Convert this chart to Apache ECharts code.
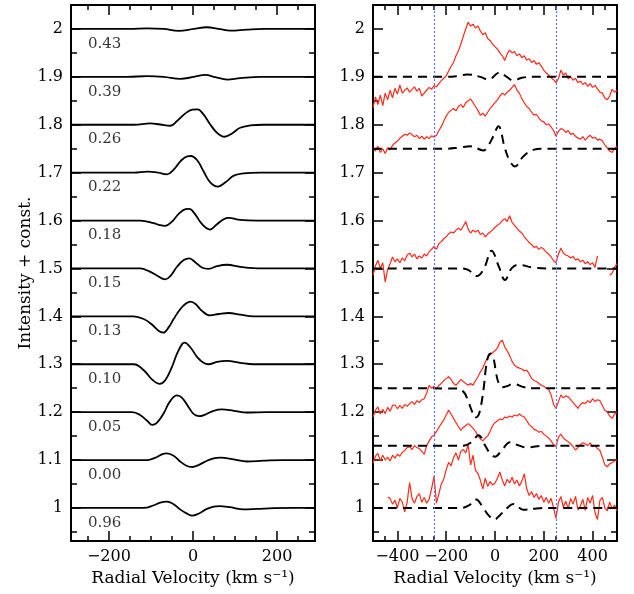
<!DOCTYPE html>
<html>
<head>
<meta charset="utf-8">
<script src="https://cdn.jsdelivr.net/npm/echarts@6/dist/echarts.min.js"></script>
<style>
  html, body { margin: 0; background: #fff; }
  #chart { width: 634px; height: 594px; }
</style>
</head>
<body>
<div id="chart"></div>
<script>
// ---- left panel: computed profiles, [velocity, intensity + const] ----
const phaseLabels = ["0.96", "0.00", "0.05", "0.10", "0.13", "0.15", "0.18", "0.22", "0.26", "0.39", "0.43"];
const phaseBaselines = [1.0, 1.1, 1.2, 1.3, 1.4, 1.5, 1.6, 1.7, 1.8, 1.9, 2.0];

const prof096 = [[-290,1],[-117,1],[-93,1.0056],[-78,1.011],[-62,1.013],[-46,1.0077],[-30,0.9965],[-12,0.987],[-2,0.984],[13,0.988],[33,0.998],[49,1.003],[63,1.004],[89,1.0015],[120,0.997],[152,0.998],[192,0.9995],[240,1],[290,1]];
const prof000 = [[-290,1.1],[-109,1.1],[-89,1.105],[-74,1.112],[-62,1.114],[-46,1.109],[-30,1.0965],[-14,1.0875],[-2,1.0855],[13,1.0895],[33,1.0986],[49,1.1035],[65,1.105],[97,1.1014],[128,1.097],[168,1.0986],[215,1.1],[290,1.1]];
const prof005 = [[-290,1.2],[-145,1.2],[-125,1.1937],[-109,1.182],[-97,1.1735],[-86,1.1777],[-70,1.197],[-58,1.218],[-46,1.232],[-38,1.235],[-26,1.23],[-10,1.2098],[2,1.1958],[15,1.1916],[29,1.195],[49,1.2028],[69,1.2056],[97,1.2028],[128,1.1993],[176,1.2],[290,1.2]];
const prof010 = [[-290,1.3],[-141,1.3],[-117,1.2875],[-97,1.268],[-79,1.259],[-66,1.2665],[-50,1.2945],[-38,1.322],[-26,1.342],[-20,1.345],[-6,1.335],[10,1.315],[25,1.303],[37,1.3],[57,1.305],[81,1.307],[112,1.303],[144,1.3],[290,1.3]];
const prof013 = [[-290,1.4],[-141,1.4],[-117,1.3944],[-97,1.3826],[-82,1.37],[-71,1.3659],[-58,1.377],[-46,1.3944],[-30,1.4153],[-16,1.4272],[-6,1.4307],[6,1.4258],[21,1.4118],[40,1.4021],[61,1.4049],[85,1.407],[112,1.4035],[144,1.4],[290,1.4]];
const prof015 = [[-290,1.5],[-125,1.5],[-105,1.4944],[-86,1.4854],[-66,1.477],[-54,1.484],[-38,1.5035],[-22,1.5174],[-9,1.5209],[6,1.5125],[21,1.502],[37,1.4993],[57,1.5049],[81,1.5077],[112,1.5035],[144,1.5007],[190,1.5],[290,1.5]];
const prof018 = [[-290,1.6],[-125,1.6],[-93,1.5944],[-78,1.5902],[-66,1.5889],[-50,1.5979],[-34,1.6139],[-18,1.6237],[-9,1.6244],[6,1.6118],[21,1.593],[40,1.5812],[57,1.5923],[73,1.6028],[85,1.6056],[112,1.6014],[152,1.6],[290,1.6]];
const prof022 = [[-290,1.7],[-140,1.7],[-109,1.7021],[-86,1.7007],[-62,1.6965],[-46,1.7063],[-30,1.7237],[-14,1.7341],[-5,1.7348],[10,1.7258],[25,1.7028],[41,1.6798],[59,1.6707],[77,1.6798],[97,1.6937],[120,1.6986],[160,1.7],[290,1.7]];
const prof026 = [[-290,1.8],[-140,1.8],[-101,1.8028],[-78,1.8005],[-54,1.7979],[-38,1.8077],[-18,1.8237],[-2,1.8314],[11,1.8321],[25,1.8216],[41,1.8007],[57,1.7833],[75,1.7749],[93,1.7819],[112,1.7937],[136,1.7986],[168,1.8],[290,1.8]];
const prof039 = [[-290,1.9],[-157,1.9],[-109,1.9014],[-70,1.9],[-30,1.8958],[2,1.9],[29,1.9042],[53,1.8995],[81,1.8944],[112,1.8972],[160,1.9],[290,1.9]];
const prof043 = [[-290,2],[-150,2],[-109,2.0014],[-70,2.0],[-34,1.9958],[2,2.0],[33,2.0035],[61,2.0],[89,1.9965],[128,1.9986],[168,2.0],[290,2]];
const leftProfiles = [prof096, prof000, prof005, prof010, prof013, prof015, prof018, prof022, prof026, prof039, prof043];

// ---- right panel: observed spectra on a 10 km/s grid ----
const obsVel = [-500,-490,-480,-470,-460,-450,-440,-430,-420,-410,-400,-390,-380,-370,-360,-350,-340,-330,-320,-310,
  -300,-290,-280,-270,-260,-250,-240,-230,-220,-210,-200,-190,-180,-170,-160,-150,-140,-130,-120,-110,
  -100,-90,-80,-70,-60,-50,-40,-30,-20,-10,0,10,20,30,40,50,60,70,80,90,
  100,110,120,130,140,150,160,170,180,190,200,210,220,230,240,250,260,270,280,290,
  300,310,320,330,340,350,360,370,380,390,400,410,420,430,440,450,460,470,480,490,500];

const obs190 = [1.835,1.858,1.842,1.862,1.840,1.866,1.852,1.872,1.856,1.876,1.864,1.883,1.866,1.872,1.877,1.868,1.874,1.879,1.870,1.876,
  1.860,1.866,1.872,1.878,1.874,1.882,1.879,1.886,1.892,1.897,1.902,1.912,1.922,1.930,1.944,1.954,1.968,1.985,2.000,2.014,
  2.006,2.010,2.002,2.006,1.996,1.988,1.992,1.980,1.976,1.968,1.963,1.958,1.950,1.944,1.934,1.948,1.956,1.950,1.953,1.944,
  1.948,1.940,1.944,1.935,1.938,1.930,1.934,1.926,1.930,1.922,1.914,1.908,1.904,1.898,1.894,1.888,1.896,1.914,1.904,1.908,
  1.896,1.900,1.893,1.897,1.888,1.891,1.884,1.888,1.880,1.886,1.878,1.882,1.875,1.868,1.866,1.856,1.852,1.860,1.874,1.868,1.872];
const obs175 = [1.752,1.745,1.755,1.742,1.750,1.740,1.752,1.748,1.757,1.762,1.766,1.772,1.776,1.780,1.778,1.783,1.779,1.775,1.778,1.771,
  1.776,1.770,1.775,1.771,1.777,1.774,1.778,1.788,1.796,1.808,1.818,1.826,1.830,1.834,1.829,1.838,1.842,1.836,1.846,1.850,
  1.854,1.846,1.838,1.830,1.820,1.824,1.818,1.826,1.834,1.840,1.846,1.852,1.860,1.866,1.862,1.868,1.872,1.878,1.884,1.872,
  1.866,1.854,1.846,1.838,1.834,1.826,1.820,1.822,1.814,1.808,1.806,1.800,1.802,1.795,1.788,1.776,1.786,1.792,1.790,1.784,
  1.788,1.780,1.782,1.776,1.772,1.770,1.775,1.768,1.774,1.778,1.772,1.774,1.768,1.770,1.766,1.758,1.752,1.745,1.742,1.750,1.755];
const obs150 = [1.486,1.505,1.517,1.500,1.512,1.472,1.498,1.510,1.524,1.514,1.520,1.512,1.522,1.516,1.528,1.532,1.524,1.530,1.520,1.526,
  1.522,1.530,1.526,1.535,1.540,1.546,1.540,1.552,1.556,1.562,1.566,1.572,1.576,1.574,1.580,1.584,1.580,1.588,1.598,1.582,
  1.574,1.580,1.576,1.580,1.571,1.574,1.566,1.572,1.576,1.580,1.586,1.590,1.594,1.600,1.604,1.598,1.610,1.596,1.590,1.584,
  1.578,1.574,1.566,1.560,1.554,1.550,1.544,1.546,1.540,1.544,1.540,1.534,1.530,1.524,1.516,1.512,1.530,1.542,1.532,1.528,
  1.526,1.522,1.525,1.518,1.520,1.514,1.517,1.510,1.514,1.508,1.512,1.502,1.526,null,null,null,null,1.486,1.490,1.502,1.510];
const obs125 = [1.190,1.204,1.211,1.196,1.206,1.197,1.210,1.202,1.214,1.215,1.207,1.214,1.208,1.216,1.212,1.218,1.222,1.216,1.224,1.220,
  1.226,1.228,1.240,1.256,1.250,1.254,1.248,1.256,1.260,1.266,1.270,1.274,1.268,1.260,1.256,1.262,1.268,1.264,1.260,1.256,
  1.260,1.256,1.266,1.274,1.284,1.292,1.304,1.314,1.320,1.324,1.328,1.334,1.346,1.350,1.336,1.328,1.318,1.306,1.298,1.294,
  1.292,1.290,1.286,1.288,1.280,1.270,1.266,1.264,1.260,1.256,1.254,1.250,1.248,1.236,1.216,1.208,1.222,1.236,1.230,1.234,
  1.232,1.226,1.220,1.214,1.208,1.216,1.220,1.218,1.224,1.220,1.228,1.222,1.226,1.224,1.214,1.204,1.200,1.192,1.187,1.196,1.200];
const obs113 = [1.093,1.108,1.114,1.098,1.110,1.100,1.106,1.098,1.110,1.104,1.112,1.108,1.116,1.120,1.126,1.128,1.122,1.130,1.126,1.124,
  1.118,1.112,1.130,1.140,1.148,1.152,1.160,1.168,1.176,1.184,1.194,1.204,1.196,1.187,1.178,1.170,1.162,1.168,1.172,1.176,
  1.172,1.166,1.160,1.150,1.144,1.140,1.146,1.150,1.160,1.172,1.178,1.182,1.186,1.184,1.190,1.188,1.192,1.190,1.194,1.192,
  1.196,1.192,1.190,1.182,1.174,1.170,1.164,1.162,1.158,1.160,1.154,1.150,1.146,1.140,1.132,1.128,1.148,1.154,1.146,1.142,
  1.138,1.134,1.128,1.121,1.126,1.132,1.136,1.134,1.130,1.136,1.128,1.130,1.124,1.120,1.106,1.090,1.086,1.092,1.095,1.098,1.100];
const obs100 = [null,null,null,null,null,null,1.023,1.020,1.008,1.016,1.000,1.020,1.012,0.992,1.012,1.053,1.020,1.010,1.024,1.030,
  1.012,1.022,1.010,1.018,1.040,1.066,1.010,1.030,1.050,1.060,1.080,1.095,1.088,1.105,1.115,1.100,1.118,1.122,1.115,1.132,
  1.090,1.110,1.078,1.072,1.058,1.040,1.062,1.045,1.055,1.048,1.052,1.062,1.075,1.058,1.046,1.060,1.052,1.064,1.050,1.058,
  1.046,1.056,1.071,1.040,1.026,1.034,1.022,1.030,1.018,1.026,1.012,1.022,1.010,1.020,1.000,0.978,1.012,1.024,1.002,1.014,
  0.998,1.020,1.008,1.024,0.996,1.004,1.018,0.995,1.022,1.010,1.026,0.990,0.976,1.016,1.022,1.000,0.994,1.012,0.998,1.006,0.994];
const observed = [obs190, obs175, obs150, obs125, obs113, obs100];

// ---- right panel: model profiles (dashed) ----
const mod190 = [[-500,1.9],[-200,1.9],[-150,1.902],[-115,1.905],[-60,1.9],[-27,1.894],[18,1.909],[48,1.9],[75,1.8925],[110,1.898],[150,1.9],[500,1.9]];
const mod175 = [[-500,1.75],[-200,1.75],[-150,1.752],[-100,1.755],[-48,1.7465],[-27,1.757],[-7,1.776],[14,1.797],[40,1.752],[60,1.725],[82,1.713],[116,1.734],[156,1.7475],[200,1.75],[500,1.75]];
const mod150 = [[-500,1.5],[-140,1.5],[-110,1.497],[-75,1.484],[-45,1.5],[-14,1.537],[15,1.505],[41,1.476],[68,1.5],[95,1.5075],[156,1.502],[220,1.5],[500,1.5]];
const mod125 = [[-500,1.25],[-163,1.2494],[-129,1.2425],[-109,1.2216],[-95,1.2028],[-82,1.189],[-72,1.1904],[-61,1.2044],[-46,1.2516],[-37,1.2934],[-27,1.3178],[-18,1.3227],[-7,1.3143],[3,1.2864],[14,1.262],[30,1.252],[48,1.254],[75,1.259],[116,1.2525],[160,1.25],[500,1.25]];
const mod113 = [[-500,1.13],[-130,1.13],[-95,1.138],[-68,1.152],[-40,1.13],[-20,1.114],[0,1.107],[27,1.12],[62,1.137],[95,1.131],[129,1.1265],[200,1.13],[500,1.13]];
const mod100 = [[-500,1],[-140,1],[-105,1.006],[-78,1.0175],[-48,1.0],[-27,0.985],[-3,0.976],[20,0.985],[50,1.0],[75,1.0085],[116,0.9965],[170,0.999],[220,1.0],[500,1.0]];
const models = [mod190, mod175, mod150, mod125, mod113, mod100];

const markerVel = [-250, 250];

// ---- axes ticks ----
const leftXMajor = [-200, 0, 200];
const leftXMinor = [-250, -150, -100, -50, 50, 100, 150, 250];
const rightXMajor = [-400, -200, 0, 200, 400];
const rightXMinor = [-450, -350, -300, -250, -150, -100, -50, 50, 100, 150, 250, 300, 350, 450];
const yMajor = [1, 1.1, 1.2, 1.3, 1.4, 1.5, 1.6, 1.7, 1.8, 1.9, 2];
const yMinor = [0.95, 1.05, 1.15, 1.25, 1.35, 1.45, 1.55, 1.65, 1.75, 1.85, 1.95];

const FONT = "DejaVu Serif";
const black = "#000";

const chart = echarts.init(document.getElementById("chart"));

function xAxes(gridIndex, min, max, majors, minors) {
  const base = { type: "value", gridIndex, min, max, splitLine: { show: false },
    axisLine: { show: false, onZero: false }, axisLabel: { show: false } };
  const majorTick = { inside: true, length: 10, customValues: majors, lineStyle: { color: black, width: 1.5 } };
  const minorTick = { inside: true, length: 5, customValues: minors, lineStyle: { color: black, width: 1.5 } };
  const frame = { show: true, onZero: false, lineStyle: { color: black, width: 2 } };
  return [
    Object.assign({}, base, {
      position: "bottom", axisLine: frame, axisTick: majorTick,
      axisLabel: { show: true, customValues: majors, margin: 8, fontSize: 16, fontFamily: FONT, color: black,
        formatter: (v) => String(v).replace("-", "\u2212") },
      name: "Radial Velocity (km s\u207B\u00B9)", nameLocation: "middle", nameGap: 28,
      nameTextStyle: { fontSize: 17, fontFamily: FONT, color: black }
    }),
    Object.assign({}, base, { position: "bottom", axisTick: minorTick }),
    Object.assign({}, base, { position: "top", axisLine: frame, axisTick: majorTick }),
    Object.assign({}, base, { position: "top", axisTick: minorTick })
  ];
}

function yAxes(gridIndex, withName) {
  const base = { type: "value", gridIndex, min: 0.931, max: 2.05, splitLine: { show: false },
    axisLine: { show: false, onZero: false }, axisLabel: { show: false } };
  const majorTick = { inside: true, length: 10, customValues: yMajor, lineStyle: { color: black, width: 1.5 } };
  const minorTick = { inside: true, length: 6, customValues: yMinor, lineStyle: { color: black, width: 1.5 } };
  const frame = { show: true, onZero: false, lineStyle: { color: black, width: 2 } };
  const main = Object.assign({}, base, {
    position: "left", axisLine: frame, axisTick: majorTick,
    axisLabel: { show: true, customValues: yMajor, margin: 8, fontSize: 16, fontFamily: FONT, color: black,
      formatter: (v) => String(Math.round(v * 100) / 100) }
  });
  if (withName) {
    Object.assign(main, { name: "Intensity + const.", nameLocation: "middle", nameGap: 36,
      nameTextStyle: { fontSize: 17, fontFamily: FONT, color: black } });
  }
  return [
    main,
    Object.assign({}, base, { position: "left", axisTick: minorTick }),
    Object.assign({}, base, { position: "right", axisLine: frame, axisTick: majorTick }),
    Object.assign({}, base, { position: "right", axisTick: minorTick })
  ];
}

const series = [];

// left: model profiles per phase
leftProfiles.forEach((prof) => {
  series.push({ type: "line", xAxisIndex: 0, yAxisIndex: 0, data: prof, smooth: 0.4,
    showSymbol: false, lineStyle: { color: black, width: 1.8 }, z: 3 });
});
// left: phase labels
series.push({
  type: "scatter", xAxisIndex: 0, yAxisIndex: 0, symbolSize: 1,
  itemStyle: { color: "transparent" },
  data: phaseBaselines.map((b, i) => [-251, b - 0.031, phaseLabels[i]]),
  label: { show: true, position: "right", distance: 0, formatter: (p) => p.value[2],
    fontSize: 15, fontFamily: FONT, color: black }
});

// right: observed spectra
observed.forEach((obs, k) => {
  const s = { type: "line", xAxisIndex: 4, yAxisIndex: 4, data: obsVel.map((v, i) => [v, obs[i]]),
    showSymbol: false, lineStyle: { color: "#ff2a1a", width: 1.2 }, z: 2 };
  if (k === 0) {
    s.markLine = { silent: true, symbol: ["none", "none"], label: { show: false },
      lineStyle: { color: "#5a72ff", type: [2, 2], width: 1.2 },
      data: markerVel.map((v) => ({ xAxis: v })) };
  }
  series.push(s);
});
// right: dashed models
models.forEach((m) => {
  series.push({ type: "line", xAxisIndex: 4, yAxisIndex: 4, data: m, smooth: 0.4, showSymbol: false,
    lineStyle: { color: black, width: 2, type: [9, 6] }, z: 3 });
});

chart.setOption({
  animation: false,
  backgroundColor: "#fff",
  grid: [
    { left: 71, top: 5, width: 244, height: 536 },
    { left: 373, top: 5, width: 244, height: 536 }
  ],
  xAxis: xAxes(0, -290, 290, leftXMajor, leftXMinor).concat(xAxes(1, -500, 500, rightXMajor, rightXMinor)),
  yAxis: yAxes(0, true).concat(yAxes(1, false)),
  series: series
});
</script>
</body>
</html>
